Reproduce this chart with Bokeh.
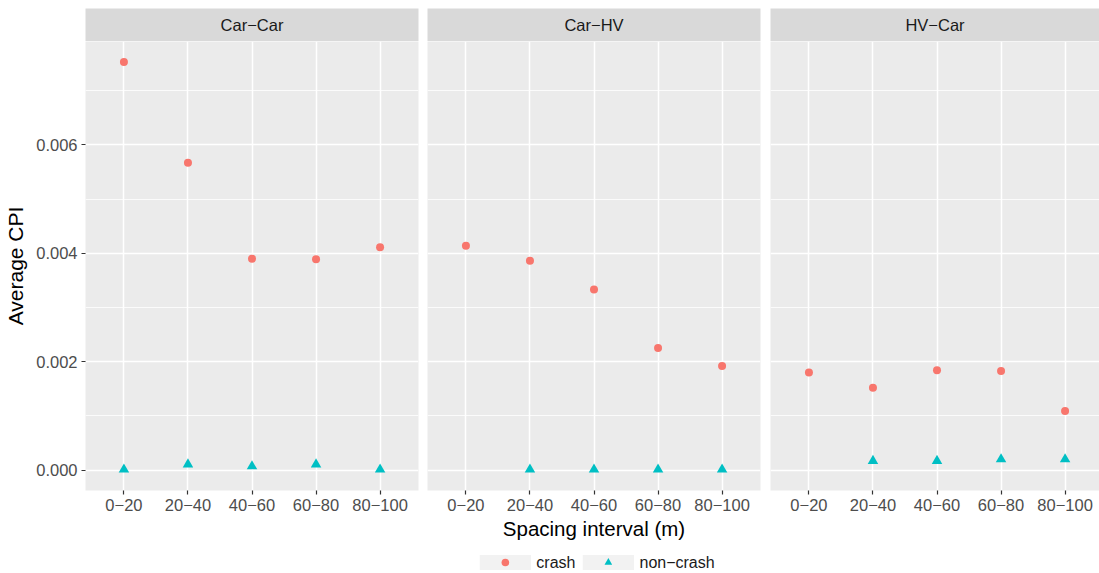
import math
from bokeh.plotting import figure
from bokeh.models import Range1d, FixedTicker, NumeralTickFormatter, Legend, LegendItem
from bokeh.layouts import row, column
from bokeh.core.properties import value
from bokeh.embed import file_html
from bokeh.resources import INLINE

# ---- data ----
intervals = ["0\u221220", "20\u221240", "40\u221260", "60\u221280", "80\u2212100"]
facets = ["Car\u2212Car", "Car\u2212HV", "HV\u2212Car"]
series_labels = ["crash", "non\u2212crash"]

crash_car_car = [0.00753, 0.00567, 0.00390, 0.00389, 0.00411]
noncrash_car_car = [0.00001, 0.000105, 0.00007, 0.000105, 0.00001]
crash_car_hv = [0.00414, 0.00386, 0.00333, 0.00225, 0.00192]
noncrash_car_hv = [float("nan"), 0.00001, 0.00001, 0.00001, 0.00001]
crash_hv_car = [0.00180, 0.00152, 0.00184, 0.00183, 0.00109]
noncrash_hv_car = [float("nan"), 0.00017, 0.00017, 0.00020, 0.00020]

y_ticks = [0.0, 0.002, 0.004, 0.006]
y_minor = [0.001, 0.003, 0.005, 0.007]

crash_series = [crash_car_car, crash_car_hv, crash_hv_car]
noncrash_series = [noncrash_car_car, noncrash_car_hv, noncrash_hv_car]

# ---- style ----
FONT = "Liberation Sans"
PANEL_BG = "#EBEBEB"
STRIP_BG = "#D9D9D9"
KEY_BG = "#F2F2F2"
CRASH_COLOR = "#F8766D"
NONCRASH_COLOR = "#00BFC4"

widths = [422, 343, 334]
b_left = [85, 5, 5]
b_right = [4, 5, 0]
strip_top = 8
strip_h = 33
frame_h = 449
panel_bottom = 54
legend_h = 29
unit_px = 333 / 5.2

xs = [i + 1 for i in range(len(intervals))]
all_vals = [v for s in crash_series + noncrash_series for v in s if not math.isnan(v)]
ymin, ymax = min(all_vals + [0.0]), max(all_vals)
pad = (ymax - ymin) * 0.05
NAN = float("nan")


def style_axis(ax):
    ax.axis_line_color = None
    ax.major_tick_line_color = "#333333"
    ax.major_tick_line_width = 1.2
    ax.major_tick_out = 4
    ax.major_tick_in = 0
    ax.minor_tick_line_color = None
    ax.major_label_text_font = FONT
    ax.major_label_text_font_size = "16.5px"
    ax.major_label_text_color = "#4D4D4D"
    ax.major_label_standoff = 4
    ax.axis_label_text_font = FONT
    ax.axis_label_text_font_style = "normal"
    ax.axis_label_text_color = "black"


strips = []
panels = []
for i, name in enumerate(facets):
    fw = widths[i] - b_left[i] - b_right[i]
    # facet strip
    s = figure(width=widths[i], height=strip_top + strip_h, x_range=Range1d(0, 1), y_range=Range1d(0, 1),
               x_axis_location=None, y_axis_location=None, toolbar_location=None,
               output_backend="svg", min_border_left=b_left[i], min_border_right=b_right[i],
               min_border_top=strip_top, min_border_bottom=0, background_fill_color=STRIP_BG,
               border_fill_color="white", outline_line_color=None)
    s.grid.visible = False
    s.text(x=[0.5], y=[0.5], text=[name], text_align="center", text_baseline="middle",
           text_font=value(FONT), text_font_size="16.5px", text_color="#1A1A1A")
    strips.append(s)

    # panel
    p = figure(width=widths[i], height=frame_h + panel_bottom,
               x_range=Range1d(0.4, 0.4 + fw / unit_px),
               y_range=Range1d(ymin - pad, ymax + pad),
               y_axis_location="left" if i == 0 else None,
               toolbar_location=None, output_backend="svg",
               min_border_left=b_left[i], min_border_right=b_right[i],
               min_border_top=0, min_border_bottom=panel_bottom,
               background_fill_color=PANEL_BG, border_fill_color="white",
               outline_line_color=None)
    p.xaxis.ticker = FixedTicker(ticks=xs)
    p.xaxis.major_label_overrides = {x: lab for x, lab in zip(xs, intervals)}
    style_axis(p.xaxis[0])
    p.xgrid.grid_line_color = "white"
    p.xgrid.grid_line_width = 1.5
    p.ygrid.ticker = FixedTicker(ticks=y_ticks, minor_ticks=y_minor)
    p.ygrid.grid_line_color = "white"
    p.ygrid.grid_line_width = 1.5
    p.ygrid.minor_grid_line_color = "white"
    p.ygrid.minor_grid_line_width = 0.8
    if i == 0:
        yax = p.yaxis[0]
        yax.ticker = FixedTicker(ticks=y_ticks, minor_ticks=y_minor)
        yax.formatter = NumeralTickFormatter(format="0.000")
        style_axis(yax)
        yax.axis_label = "Average CPI"
        yax.axis_label_text_font_size = "21px"
        yax.axis_label_standoff = 6
    if i == 1:
        p.xaxis.axis_label = "Spacing interval (m)"
        p.xaxis.axis_label_text_font_size = "20.5px"
        p.xaxis.axis_label_standoff = 3

    p.scatter(x=xs, y=crash_series[i], marker="circle", size=8,
              fill_color=CRASH_COLOR, line_color=None)
    p.scatter(x=xs, y=noncrash_series[i], marker="triangle", size=10.5,
              fill_color=NONCRASH_COLOR, line_color=None)
    panels.append(p)

# ---- legend strip ----
total_w = sum(widths)
legend_center = b_left[1] + widths[0] + (widths[1] - b_left[1] - b_right[1]) / 2
lf = figure(width=total_w, height=legend_h, x_range=Range1d(0, 1), y_range=Range1d(0, 1),
            x_axis_location=None, y_axis_location=None, toolbar_location=None,
            output_backend="svg", min_border_left=int(2 * legend_center - total_w),
            min_border_right=0, min_border_top=7, min_border_bottom=0,
            background_fill_alpha=0, border_fill_color="white", outline_line_color=None)
lf.grid.visible = False
bg = lf.quad(left=[NAN], right=[NAN], top=[NAN], bottom=[NAN], fill_color=KEY_BG, line_color=None)
lc = lf.scatter(x=[NAN], y=[NAN], marker="circle", size=8, fill_color=CRASH_COLOR, line_color=None)
ln = lf.scatter(x=[NAN], y=[NAN], marker="triangle", size=10.5, fill_color=NONCRASH_COLOR, line_color=None)
legend = Legend(items=[LegendItem(label=series_labels[0], renderers=[bg, lc]),
                       LegendItem(label=series_labels[1], renderers=[bg, ln])],
                orientation="horizontal", location="center",
                glyph_width=64, glyph_height=19, label_height=19,
                label_standoff=0, spacing=0, padding=0, margin=0,
                border_line_color=None, background_fill_alpha=0,
                label_text_font=FONT, label_text_font_size="16px",
                label_text_color="#1A1A1A")
lf.add_layout(legend, "center")

layout = column(row(*strips), row(*panels), lf)
open("out.html", "w").write(file_html(layout, INLINE))
